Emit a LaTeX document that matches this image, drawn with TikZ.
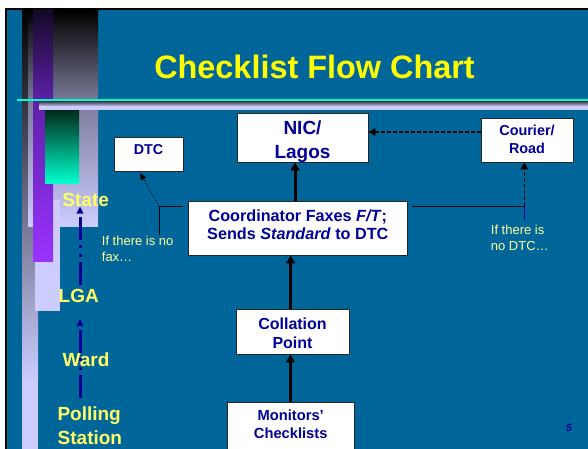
\documentclass[tikz,border=0pt]{standalone}
\usepackage{fontspec}
\setmainfont{Liberation Sans}
\usetikzlibrary{arrows.meta}
\definecolor{bg}{HTML}{006699}
\definecolor{lav}{HTML}{CCCCFF}
\definecolor{navy}{HTML}{000099}
\definecolor{titley}{HTML}{FFFF00}
\definecolor{laby}{HTML}{FFFF66}
\definecolor{notey}{HTML}{FFFF99}
\definecolor{cyanl}{HTML}{00FFCC}
\definecolor{tealdark}{HTML}{002A1A}
\definecolor{purpdark}{HTML}{140828}
\definecolor{purpmid}{HTML}{5E20A8}
\definecolor{purp}{HTML}{9933FF}
\definecolor{graymid}{HTML}{7A7A9A}
\definecolor{bardark}{HTML}{404050}
\begin{document}
\begin{tikzpicture}[x=1pt,y=-1pt,
  box/.style={draw=black!85,line width=0.9pt,fill=white,inner sep=0pt},
  bt/.style={text=navy,anchor=base,inner sep=0pt,font=\bfseries\fontsize{#1}{#1}\selectfont},
  lbl/.style={text=laby,anchor=base,inner sep=0pt,font=\bfseries\fontsize{19}{23}\selectfont},
  note/.style={text=notey,anchor=base west,inner sep=0pt,font=\fontsize{13}{16}\selectfont},
  flow/.style={draw=black,line width=3pt,-{Triangle[width=9pt,length=8pt]}},
  dflow/.style={draw=black,line width=1.6pt,dash pattern=on 4pt off 2pt,-{Triangle[width=7.5pt,length=7pt]}},
  dotflow/.style={draw=black,line width=0.9pt,dotted,-{Triangle[width=6pt,length=7pt]}},
  calline/.style={draw=black,line width=0.9pt},
  lvl/.style={draw=navy,line width=3pt,dash pattern=on 23pt off 5pt on 3pt off 6pt on 3pt off 5pt,-{Triangle[width=6.5pt,length=7pt]}}
]
\useasboundingbox (0,0) rectangle (588,449);
% slide background and border
\fill[white] (0,0) rectangle (588,449);
\fill[black] (5,8) rectangle (588,449);
\fill[bg] (7,10) rectangle (588,449);
% left decorations
\shade[top color=black,bottom color=lav] (22,10) rectangle (38,380);
\fill[lav] (22,380) rectangle (38,449);
\shade[top color=black,bottom color=graymid] (28,10) rectangle (98,100);
\shade[top color=graymid,bottom color=lav] (28,100) rectangle (98,226);
\fill[lav] (35,200) rectangle (59.5,311);
\shade[top color=purpdark,bottom color=purpmid] (33,10) rectangle (53,100);
\shade[top color=purpmid,bottom color=purp] (33,100) rectangle (53,261);
\shade[top color=tealdark,bottom color=cyanl] (45,110) rectangle (79,183);
% title rule and bar
\shade[top color=bardark,bottom color=lav] (39,101.5) rectangle (588,106.5);
\fill[lav] (39,106.5) rectangle (588,110);
\draw[cyanl,line width=1.4pt] (17,100) -- (588,100);
% title
\node[anchor=base,inner sep=0pt,text=titley,font=\bfseries\fontsize{32.4}{38}\selectfont] (title) at (314.5,78.3) {Checklist Flow Chart};
% boxes
\node[box,minimum width=69pt,minimum height=34pt] (dtc) at (148.5,154) {};
\node[box,minimum width=131pt,minimum height=49pt] (nic) at (302.5,137.5) {};
\node[box,minimum width=92pt,minimum height=44pt] (cour) at (527,140) {};
\node[box,minimum width=219pt,minimum height=54pt] (coord) at (297.5,228) {};
\node[box,minimum width=113pt,minimum height=45pt] (col) at (292.5,331.5) {};
\node[box,minimum width=127pt,minimum height=68pt] (mon) at (290.5,436) {};
% box texts
\node[bt=14.3] (dtct) at (148.5,155) {DTC};
\node[bt=19] (nict1) at (302.5,135) {NIC/};
\node[bt=19] (nict2) at (302.5,158.3) {Lagos};
\node[bt=14.4] (court1) at (527,136) {Courier/};
\node[bt=14.4] (court2) at (527,153.3) {Road};
\node[bt=16.2] (coordt1) at (297.8,221.3) {Coordinator Faxes \textit{F/T};};
\node[bt=16.2] (coordt2) at (297.8,239.3) {Sends \textit{Standard} to DTC};
\node[bt=16] (colt1) at (292.5,329.3) {Collation};
\node[bt=16] (colt2) at (292.5,348.3) {Point};
\node[bt=14.7] (mont1) at (290.7,420) {Monitors’};
\node[bt=14.7] (mont2) at (290.7,438.3) {Checklists};
\node[text=navy,anchor=base,inner sep=0pt,font=\bfseries\itshape\fontsize{10.5}{12}\selectfont] (pnum) at (569,431.7) {5};
% level labels
\node[lbl] (state) at (85.7,206) {State};
\node[lbl] (lga) at (78.7,302) {LGA};
\node[lbl] (ward) at (86,366.7) {Ward};
\node[lbl,anchor=base west] (poll1) at (57.3,420.7) {Polling};
\node[lbl,anchor=base west] (poll2) at (57.5,444.3) {Station};
% notes
\node[note] (n1a) at (101.7,245.7) {If there is no};
\node[note] (n1b) at (101.7,261.7) {fax…};
\node[note] (n2a) at (490.7,234) {If there is};
\node[note] (n2b) at (490.7,250) {no DTC…};
% level arrows
\coordinate (la1) at (80,285);
\coordinate (la2) at (80,206.5);
\coordinate (lb1) at (80,398);
\coordinate (lb2) at (80,319);
\draw[lvl] (la1) -- (la2);
\draw[lvl] (lb1) -- (lb2);
% flow arrows
\draw[flow] (mon.north) -- (mon.north |- col.south);
\draw[flow] ([xshift=-1.8pt]col.north) -- ([xshift=-1.8pt]col.north |- coord.south);
\draw[flow] ([xshift=-2.5pt]coord.north) -- ([xshift=-2.5pt]coord.north |- nic.south);
\draw[dflow] ([yshift=8pt]cour.west) -- ([yshift=8pt]cour.west -| nic.east);
% callouts
\coordinate (lc1) at (183,206);
\coordinate (lc2) at (159,206);
\coordinate (lc3) at (159,235);
\draw[calline] (lc1) -- (lc2) -- (lc3);
\draw[dotflow] (lc2) -- ([xshift=-8.5pt,yshift=-1.5pt]dtc.south);
\coordinate (rc1) at (412,206);
\coordinate (rc2) at (524.3,206);
\coordinate (rc3) at (524.3,220);
\draw[calline] (rc1) -- (rc2);
\draw[navy,line width=0.9pt] (rc2) -- (rc3);
\draw[dflow] (rc2) -- (rc2 |- cour.south);
\end{tikzpicture}
\end{document}
